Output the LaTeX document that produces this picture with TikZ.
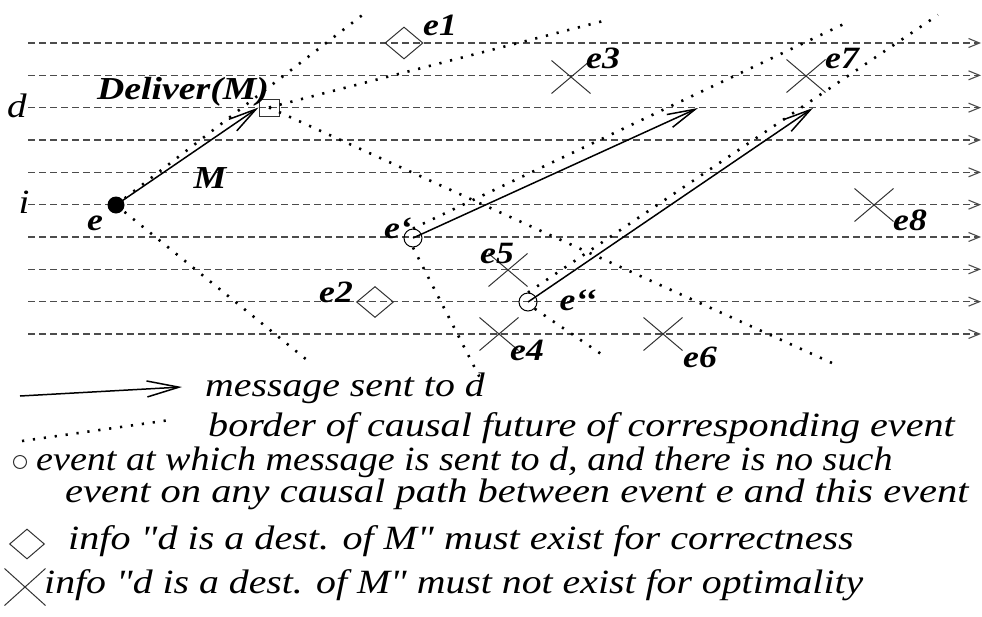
\documentclass[tikz,border=0pt]{standalone}
\usepackage{fontspec}
\setmainfont{Liberation Serif}
\usepackage{graphicx}
\usetikzlibrary{arrows.meta,shapes.geometric,shapes.misc}
\newcommand\wide[2][1.15]{\scalebox{#1}[1]{#2}}
\newcommand\dq{\textquotedbl}
\begin{document}
\begin{tikzpicture}[x=1pt,y=-1pt,
  proc/.style={draw=black!70, line width=1.1pt, dash pattern=on 7pt off 4pt, -{Straight Barb[length=11pt,width=9pt]}},
  msg/.style={draw=black, line width=1.5pt, -{Straight Barb[length=28pt,width=14pt]}},
  dots/.style={draw=black, line width=2.6pt, dash pattern=on 2.2pt off 8.8pt},
  sym/.style={draw=black!80, line width=1pt, inner sep=0pt},
  xmark/.style={sym, cross out, minimum width=38pt, minimum height=32pt},
  dmark/.style={sym, diamond, minimum width=38pt, minimum height=32pt},
  lab/.style={font=\fontsize{31}{31}\selectfont\bfseries\itshape, inner sep=0pt, anchor=base},
  big/.style={font=\fontsize{32}{32}\selectfont\bfseries\itshape, inner sep=0pt, anchor=base},
  proclab/.style={font=\fontsize{34}{34}\selectfont\itshape, inner sep=0pt, anchor=base},
  leg/.style={font=\fontsize{34}{34}\selectfont\itshape, inner sep=0pt, anchor=base west},
]
\useasboundingbox (0,0) rectangle (982,616);

% process lines
\foreach \k in {0,...,9} {
  \pgfmathsetmacro\yy{43+32.33*\k}
  \coordinate (L\k) at (28,\yy);
  \coordinate (R\k) at (981,\yy);
  \draw[proc] (L\k) -- (R\k);
}
\node[proclab] (dlab) at (17,117) {\wide{d}};
\node[proclab] (ilab) at (24,213) {\wide{i}};

% events
\node[circle, fill=black, inner sep=0pt, minimum size=17pt] (e) at (116,205) {};
\node[sym, rectangle, minimum width=20pt, minimum height=17pt] (box) at (269,107.5) {};
\node[sym, circle, draw=black, minimum size=18pt] (ep) at (413,238) {};
\node[sym, circle, draw=black, minimum size=18pt] (epp) at (528,302) {};

% causal future borders
\coordinate (eu) at (365,13);
\coordinate (el) at (307,360);
\coordinate (bu) at (607,20);
\coordinate (bl) at (832,363);
\coordinate (epu) at (848,22);
\coordinate (epl) at (480,378);
\coordinate (eppu) at (938,15);
\coordinate (eppl) at (607,358);
\draw[dots] (e.center) -- (eu);
\draw[dots] (e.center) -- (el);
\draw[dots] (box.center) -- (bu);
\draw[dots] (box.center) -- (bl);
\draw[dots] (ep.north) -- (epu);
\draw[dots] (ep.south) -- (epl);
\draw[dots] (epp.north) -- (eppu);
\draw[dots] (epp.south east) -- (eppl);

% messages
\coordinate (t1) at (698,108);
\coordinate (t2) at (813,108);
\draw[msg] (e.center) -- (box.west);
\draw[msg] (ep.center) -- (t1);
\draw[msg] (epp.center) -- (t2);

% marks
\node[dmark] (e1) at (404,43) {};
\node[dmark, minimum width=37pt, minimum height=31pt] (e2) at (375,302) {};
\node[xmark] (e3) at (571,77) {};
\node[xmark] (e4) at (499,334) {};
\node[xmark] (e5) at (508,270) {};
\node[xmark] (e6) at (663,334) {};
\node[xmark] (e7) at (806,76) {};
\node[xmark] (e8) at (874,205) {};

% labels
\node[lab] (le) at (95,230) {\wide{e}};
\node[big] (ldel) at (183,99) {\wide[1.18]{Deliver(M)}};
\node[big] (lm) at (210,188) {\wide{M}};
\node[lab] (l1) at (440,35) {\wide{e1}};
\node[lab] (l2) at (336,302) {\wide{e2}};
\node[lab] (l3) at (603,68) {\wide{e3}};
\node[lab] (l4) at (527,360) {\wide{e4}};
\node[lab] (l5) at (497,263) {\wide{e5}};
\node[lab] (l6) at (700,367) {\wide{e6}};
\node[lab] (l7) at (842,68) {\wide{e7}};
\node[lab] (l8) at (910,230) {\wide{e8}};
\node[lab] (lep) at (398,238) {\wide{e‘}};
\node[lab] (lepp) at (578,310) {\wide{e‘‘}};

% legend
\coordinate (ga) at (20,396);
\coordinate (gb) at (182,387);
\draw[msg, -{Straight Barb[length=32pt,width=16pt]}] (ga) -- (gb);
\coordinate (gc) at (22,441);
\coordinate (gd) at (170,420);
\draw[dots] (gc) -- (gd);
\node[sym, circle, draw=black!80, minimum size=13pt] (gcirc) at (20,462) {};
\node[dmark, minimum width=35pt, minimum height=30pt] (gdia) at (27,544) {};
\node[xmark, minimum width=40pt, minimum height=36pt] (gx) at (25,587) {};

\node[leg] (t1l) at (205,396) {\wide[1.17]{message sent to d}};
\node[leg] (t2l) at (208,436) {\wide[1.18]{border of causal future of corresponding event}};
\node[leg] (t3l) at (36,470) {\wide[1.12]{event at which message is sent to d, and there is no such}};
\node[leg] (t4l) at (65,502) {\wide[1.19]{event on any causal path between event e and this event}};
\node[leg] (t5l) at (68,549) {\wide[1.18]{info \dq d is a dest. of M\dq{} must exist for correctness}};
\node[leg] (t6l) at (44,593) {\wide[1.17]{info \dq d is a dest. of M\dq{} must not exist for optimality}};
\end{tikzpicture}
\end{document}
